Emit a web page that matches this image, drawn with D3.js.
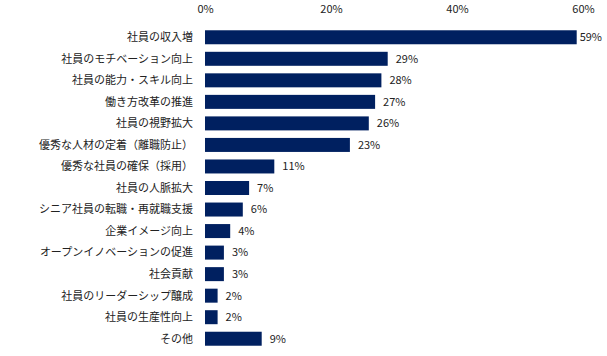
<!DOCTYPE html>
<html><head><meta charset="utf-8">
<script src="https://cdn.jsdelivr.net/npm/d3@7"></script>
<style>body{margin:0;background:#fff;}text{font-family:"Noto Sans CJK JP","Noto Sans",sans-serif;}</style>
</head><body><svg id="c" width="607" height="356"></svg>
<script>
const categories = ["社員の収入増","社員のモチベーション向上","社員の能力・スキル向上","働き方改革の推進","社員の視野拡大","優秀な人材の定着（離職防止）","優秀な社員の確保（採用）","社員の人脈拡大","シニア社員の転職・再就職支援","企業イメージ向上","オープンイノベーションの促進","社会貢献","社員のリーダーシップ醸成","社員の生産性向上","その他"];
const values = [59,29,28,27,26,23,11,7,6,4,3,3,2,2,9];
const tickValues = [0,20,40,60];

const svg = d3.select("#c");
const x = d3.scaleLinear().domain([0,60]).range([205,583]);
const y = d3.scaleBand().domain(categories).range([26.5,349.5]).paddingInner(0.35).paddingOuter(0.175);

const axis = d3.axisTop(x).tickValues(tickValues).tickFormat(d=>d+"%").tickSize(0).tickPadding(0);
const ga = svg.append("g").attr("transform","translate(0,13)").call(axis);
ga.select(".domain").remove();
ga.selectAll("text").attr("font-size",11).attr("fill","#222").attr("dy",0).attr("font-family","'Noto Sans',sans-serif");

svg.append("g").selectAll("text").data(categories).join("text")
  .attr("x",193).attr("y",d=>y(d)+y.bandwidth()/2).attr("dy","0.35em")
  .attr("text-anchor","end").attr("font-size",11).attr("fill","#222").text(d=>d);

svg.append("g").selectAll("rect").data(values).join("rect")
  .attr("x",x(0)).attr("y",(d,i)=>y(categories[i]))
  .attr("width",d=>x(d)-x(0)).attr("height",y.bandwidth()).attr("fill","#002060");

const lbl = svg.append("g").selectAll("text").data(values).join("text")
  .attr("y",(d,i)=>y(categories[i])+y.bandwidth()/2).attr("dy","0.35em")
  .attr("font-size",11).attr("fill","#222").text(d=>d+"%");
lbl.each(function(d){
  const w = this.getComputedTextLength();
  let xs = x(d)+8;
  if (xs + w > 602) xs = 602 - w;
  d3.select(this).attr("x",xs);
});
</script></body></html>
